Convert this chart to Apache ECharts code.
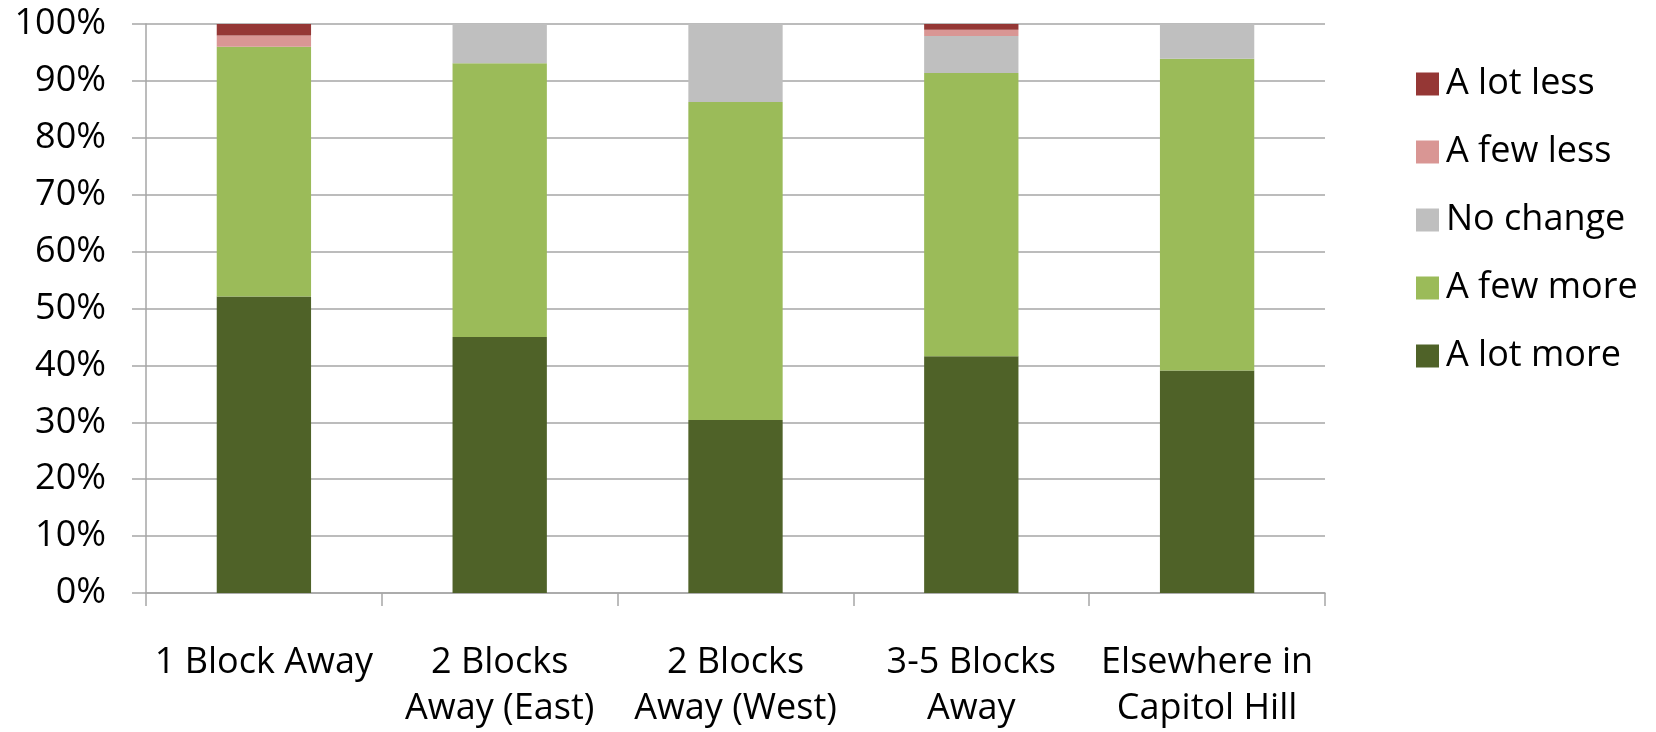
<!DOCTYPE html>
<html>
<head>
<meta charset="utf-8">
<script src="https://cdn.jsdelivr.net/npm/echarts@6/dist/echarts.min.js"></script>
<style>
html,body{margin:0;padding:0;background:#fff;}
#chart{width:1656px;height:732px;}
</style>
</head>
<body>
<div id="chart"></div>
<script>
const categories = ['1 Block Away', '2 Blocks\nAway (East)', '2 Blocks\nAway (West)', '3-5 Blocks\nAway', 'Elsewhere in\nCapitol Hill'];
const aLotMore = [52.1, 45.0, 30.4, 41.6, 39.1];
const aFewMore = [43.9, 48.1, 55.9, 49.8, 54.8];
const noChange = [0, 6.9, 13.7, 6.5, 6.1];
const aFewLess = [2.0, 0, 0, 1.1, 0];
const aLotLess = [2.0, 0, 0, 1.0, 0];
const legendOrder = ['A lot less', 'A few less', 'No change', 'A few more', 'A lot more'];

const FONT = 'Open Sans';
const AX = '#a6a6a6';

const chart = echarts.init(document.getElementById('chart'), null, {renderer: 'canvas'});
function s(name, data, color) {
  return {
    name: name, type: 'bar', stack: 'total', data: data, barWidth: '40%',
    itemStyle: {color: color}, emphasis: {disabled: true}
  };
}
chart.setOption({
  animation: false,
  grid: {left: 146, right: 331, top: 24, bottom: 139, containLabel: false},
  legend: {
    data: legendOrder, orient: 'vertical', left: 1411, top: 61,
    itemWidth: 23, itemHeight: 23, itemGap: 32, icon: 'rect',
    textStyle: {fontFamily: FONT, fontSize: 36, color: '#000', lineHeight: 23, padding: [0, 0, 0, 2]}
  },
  xAxis: {
    type: 'category', data: categories,
    axisLine: {lineStyle: {color: AX, width: 1.5}},
    axisTick: {show: true, length: 13, lineStyle: {color: AX, width: 1.5}},
    axisLabel: {fontFamily: FONT, fontSize: 36, color: '#000', lineHeight: 46, margin: 47, interval: 0}
  },
  yAxis: {
    type: 'value', min: 0, max: 100, interval: 10,
    axisLine: {show: true, lineStyle: {color: AX, width: 1.5}},
    axisTick: {show: true, length: 14, lineStyle: {color: AX, width: 1.5}},
    splitLine: {lineStyle: {color: AX, width: 1.5}},
    axisLabel: {formatter: '{value}%', fontFamily: FONT, fontSize: 36, color: '#000', margin: 40}
  },
  series: [
    s('A lot more', aLotMore, '#4F6228'),
    s('A few more', aFewMore, '#9BBB59'),
    s('No change', noChange, '#BFBFBF'),
    s('A few less', aFewLess, '#D99694'),
    s('A lot less', aLotLess, '#953735')
  ]
});
</script>
</body>
</html>
